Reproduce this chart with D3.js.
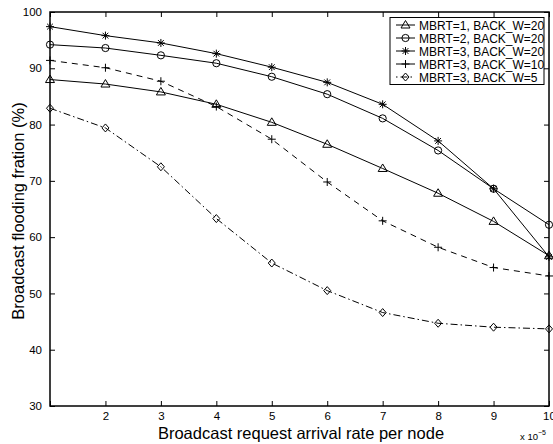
<!DOCTYPE html>
<html>
<head>
<meta charset="utf-8">
<script src="https://cdn.jsdelivr.net/npm/d3@7"></script>
<style>
    body { margin: 0; background: #fff; }
    svg { display: block; font-family: "Liberation Sans", Arial, sans-serif; }
</style>
</head>
<body>
<svg id="chart" width="553" height="444"></svg>
<script>
'use strict';

const xValues = [1, 2, 3, 4, 5, 6, 7, 8, 9, 10];
const xTicks = [1, 2, 3, 4, 5, 6, 7, 8, 9, 10];
const xTickLabels = ['', '2', '3', '4', '5', '6', '7', '8', '9', '10'];
const yTicks = [30, 40, 50, 60, 70, 80, 90, 100];

const seriesNames = [
    'MBRT=1, BACK_W=20',
    'MBRT=2, BACK_W=20',
    'MBRT=3, BACK_W=20',
    'MBRT=3, BACK_W=10',
    'MBRT=3, BACK_W=5'
];
const mbrt1bw20 = [88.0, 87.2, 85.8, 83.6, 80.4, 76.5, 72.2, 67.8, 62.8, 56.7];
const mbrt2bw20 = [94.2, 93.6, 92.3, 90.9, 88.5, 85.4, 81.1, 75.4, 68.6, 62.2];
const mbrt3bw20 = [97.4, 95.8, 94.5, 92.6, 90.2, 87.5, 83.6, 77.1, 68.6, 56.5];
const mbrt3bw10 = [91.4, 90.1, 87.7, 83.2, 77.4, 69.8, 62.9, 58.2, 54.6, 53.1];
const mbrt3bw5 = [82.9, 79.4, 72.5, 63.3, 55.4, 50.5, 46.6, 44.7, 44.0, 43.7];

const seriesValues = [mbrt1bw20, mbrt2bw20, mbrt3bw20, mbrt3bw10, mbrt3bw5];
const markers = ['triangle', 'circle', 'star', 'plus', 'diamond'];
const dashes = [null, null, null, '6,5', '7,3,1.5,3'];

const MARGIN = {left: 50, right: 4, top: 12, bottom: 38};
const WIDTH = 553, HEIGHT = 444;

const svg = d3.select('#chart');

const x = d3.scaleLinear().domain([1, 10]).range([MARGIN.left, WIDTH - MARGIN.right]);
const y = d3.scaleLinear().domain([30, 100]).range([HEIGHT - MARGIN.bottom, MARGIN.top]);

// axes with inward ticks, all four sides
const TICK = 5;
svg.append('g')
    .attr('transform', `translate(0,${y(30)})`)
    .call(d3.axisBottom(x).tickValues(xTicks).tickSizeInner(-TICK).tickSizeOuter(0)
        .tickPadding(6).tickFormat((d, i) => xTickLabels[i]));
svg.append('g')
    .attr('transform', `translate(0,${y(100)})`)
    .call(d3.axisTop(x).tickValues(xTicks).tickSizeInner(-TICK).tickSizeOuter(0).tickFormat(''));
svg.append('g')
    .attr('transform', `translate(${x(1)},0)`)
    .call(d3.axisLeft(y).tickValues(yTicks).tickSizeInner(-TICK).tickSizeOuter(0).tickPadding(8));
svg.append('g')
    .attr('transform', `translate(${x(10)},0)`)
    .call(d3.axisRight(y).tickValues(yTicks).tickSizeInner(-TICK).tickSizeOuter(0).tickFormat(''));

svg.selectAll('.domain').remove();
svg.selectAll('.tick line').attr('stroke', '#000').attr('stroke-width', 1);
svg.selectAll('.tick text').attr('font-size', 11.5).attr('fill', '#000')
    .attr('font-family', '"Liberation Sans", Arial, sans-serif');

svg.append('rect')
    .attr('x', x(1)).attr('y', y(100))
    .attr('width', x(10) - x(1)).attr('height', y(30) - y(100))
    .attr('fill', 'none').attr('stroke', '#000').attr('stroke-width', 1.5);

function drawMarker(g, type, cx, cy) {
    const s = 4;
    if (type === 'triangle') {
        g.append('path')
            .attr('d', `M${cx},${cy - s - 0.5}L${cx + s + 0.5},${cy + s - 1}L${cx - s - 0.5},${cy + s - 1}Z`)
            .attr('fill', 'none').attr('stroke', '#000').attr('stroke-width', 1);
    } else if (type === 'circle') {
        g.append('circle').attr('cx', cx).attr('cy', cy).attr('r', 3.6)
            .attr('fill', 'none').attr('stroke', '#000').attr('stroke-width', 1);
    } else if (type === 'diamond') {
        g.append('path')
            .attr('d', `M${cx},${cy - s}L${cx + s - 0.5},${cy}L${cx},${cy + s}L${cx - s + 0.5},${cy}Z`)
            .attr('fill', 'none').attr('stroke', '#000').attr('stroke-width', 1);
    } else if (type === 'plus') {
        g.append('path')
            .attr('d', `M${cx - s},${cy}H${cx + s}M${cx},${cy - s}V${cy + s}`)
            .attr('stroke', '#000').attr('stroke-width', 1);
    } else if (type === 'star') {
        const d = s * 0.72;
        g.append('path')
            .attr('d', `M${cx - s},${cy}H${cx + s}M${cx},${cy - s}V${cy + s}` +
                `M${cx - d},${cy - d}L${cx + d},${cy + d}M${cx - d},${cy + d}L${cx + d},${cy - d}`)
            .attr('stroke', '#000').attr('stroke-width', 1);
    }
}

const line = d3.line().x((d, i) => x(xValues[i])).y(d => y(d));

seriesValues.forEach((vals, k) => {
    const g = svg.append('g');
    g.append('path')
        .attr('d', line(vals))
        .attr('fill', 'none')
        .attr('stroke', '#000')
        .attr('stroke-width', 1)
        .attr('stroke-dasharray', dashes[k]);
    vals.forEach((v, i) => drawMarker(g, markers[k], x(xValues[i]), y(v)));
});

// legend
const legend = svg.append('g');
legend.append('rect')
    .attr('x', 390).attr('y', 17.5).attr('width', 154).attr('height', 67)
    .attr('fill', '#fff').attr('stroke', '#000').attr('stroke-width', 1);
seriesNames.forEach((name, k) => {
    const ly = 25 + k * 13;
    legend.append('line')
        .attr('x1', 396).attr('x2', 415).attr('y1', ly).attr('y2', ly)
        .attr('stroke', '#000').attr('stroke-width', 1)
        .attr('stroke-dasharray', k === 4 ? '1.5,3,7,3' : null);
    drawMarker(legend, markers[k], 405.5, ly);
    legend.append('text')
        .attr('x', 419).attr('y', ly + 4.5)
        .attr('font-size', 12)
        .text(name);
});

// axis titles
svg.append('text')
    .attr('x', 301).attr('y', 439)
    .attr('text-anchor', 'middle')
    .attr('font-size', 16.5)
    .text('Broadcast request arrival rate per node');

const xe = svg.append('text')
    .attr('x', 520).attr('y', 440)
    .attr('font-size', 9.5);
xe.append('tspan').text('x 10');
xe.append('tspan').attr('dy', -5).attr('font-size', 7).text('\u22125');

svg.append('text')
    .attr('transform', 'translate(24,211) rotate(-90)')
    .attr('text-anchor', 'middle')
    .attr('font-size', 16.5)
    .text('Broadcast flooding fration (%)');
</script>
</body>
</html>
